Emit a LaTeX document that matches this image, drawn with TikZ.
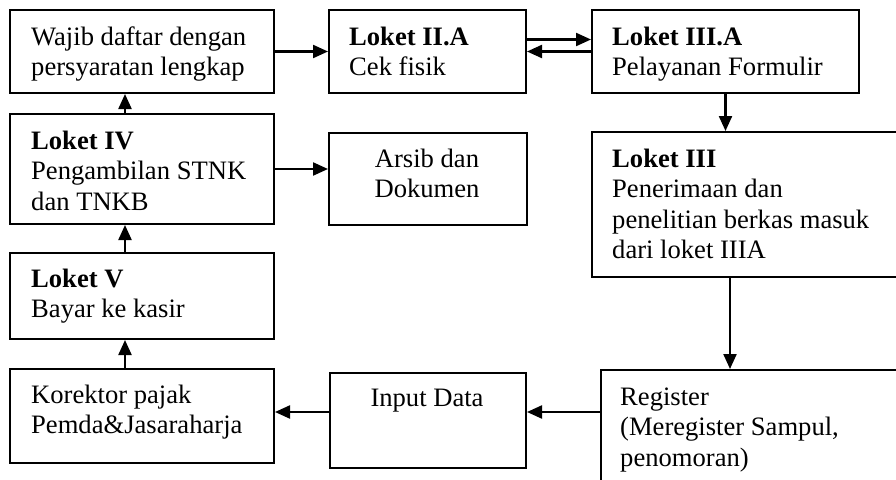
\documentclass[tikz,border=0pt]{standalone}
\usepackage{fontspec}
\setmainfont{Liberation Serif}
\usetikzlibrary{arrows.meta,calc}
\begin{document}
\begin{tikzpicture}[x=1pt,y=-1pt,
  box/.style={draw,fill=white,line width=2pt,inner sep=0pt,anchor=north west},
  txt/.style={anchor=north west,inner sep=0pt,align=left,font=\fontsize{26.6}{30.5}\selectfont},
  ctxt/.style={anchor=north,inner sep=0pt,align=center,font=\fontsize{26.6}{30.5}\selectfont},
  arr/.style={line width=2.2pt,-{Triangle[length=15pt,width=13pt]}}]
\useasboundingbox (0,0) rectangle (896,479);
\clip (0,0) rectangle (896,479);
% boxes
\node[box,minimum width=264pt,minimum height=83pt] (A) at (9,9) {};
\node[box,minimum width=197pt,minimum height=83pt] (B) at (328,9) {};
\node[box,minimum width=267pt,minimum height=83pt] (C) at (591,9) {};
\node[box,minimum width=264pt,minimum height=110pt] (D) at (9,113) {};
\node[box,minimum width=198pt,minimum height=92pt] (E) at (328,132) {};
\node[box,minimum width=330pt,minimum height=145pt] (F) at (591,131) {};
\node[box,minimum width=264pt,minimum height=86pt] (G) at (9,252) {};
\node[box,minimum width=264pt,minimum height=94pt] (H) at (9,368) {};
\node[box,minimum width=196pt,minimum height=95pt] (I) at (329,372) {};
\node[box,minimum width=320pt,minimum height=130pt] (J) at (600,369) {};
% texts
\node[txt] (tA) at (31,23.65) {\strut Wajib daftar dengan\\persyaratan lengkap};
\node[txt] (tB) at (349,23.65) {\strut\textbf{Loket II.A}\\Cek fisik};
\node[txt] (tC) at (612,23.65) {\strut\textbf{Loket III.A}\\Pelayanan Formulir};
\node[txt] (tD) at (31,127.65) {\strut\textbf{Loket IV}\\Pengambilan STNK\\dan TNKB};
\node[ctxt] (tE) at (427,145.65) {\strut Arsib dan\\Dokumen};
\node[txt] (tF) at (612,145.65) {\strut\textbf{Loket III}\\Penerimaan dan\\penelitian berkas masuk\\dari loket IIIA};
\node[txt] (tG) at (31,265.65) {\strut\textbf{Loket V}\\Bayar ke kasir};
\node[txt] (tH) at (31,381.65) {\strut Korektor pajak\\Pemda\&Jasaraharja};
\node[ctxt] (tI) at (427,384.65) {\strut Input Data};
\node[txt] (tJ) at (620,383.65) {\strut Register\\(Meregister Sampul,\\penomoran)};
% connectors
\draw[arr] (A) -- (B);
\draw[arr] ([yshift=12pt]B.east) -- ([yshift=12pt]C.west);
\draw[arr] (C) -- (B);
\draw[arr] (C.south) -- (C.south |- F.north);
\draw[arr] ([xshift=-17pt]D.north) -- ([xshift=-17pt]A.south);
\draw[arr] (D.east) -- (D.east -| E.west);
\draw[arr] ([xshift=-17pt]G.north) -- ([xshift=-17pt]D.south);
\draw[arr] ([xshift=-17pt]H.north) -- ([xshift=-17pt]G.south);
\draw[arr] ([xshift=139pt]F.south west) -- ([xshift=130pt]J.north west);
\coordinate (r) at (0,412);
\draw[arr] (J.west |- r) -- (I.east |- r);
\draw[arr] (I.west |- r) -- (H.east |- r);
\end{tikzpicture}
\end{document}
